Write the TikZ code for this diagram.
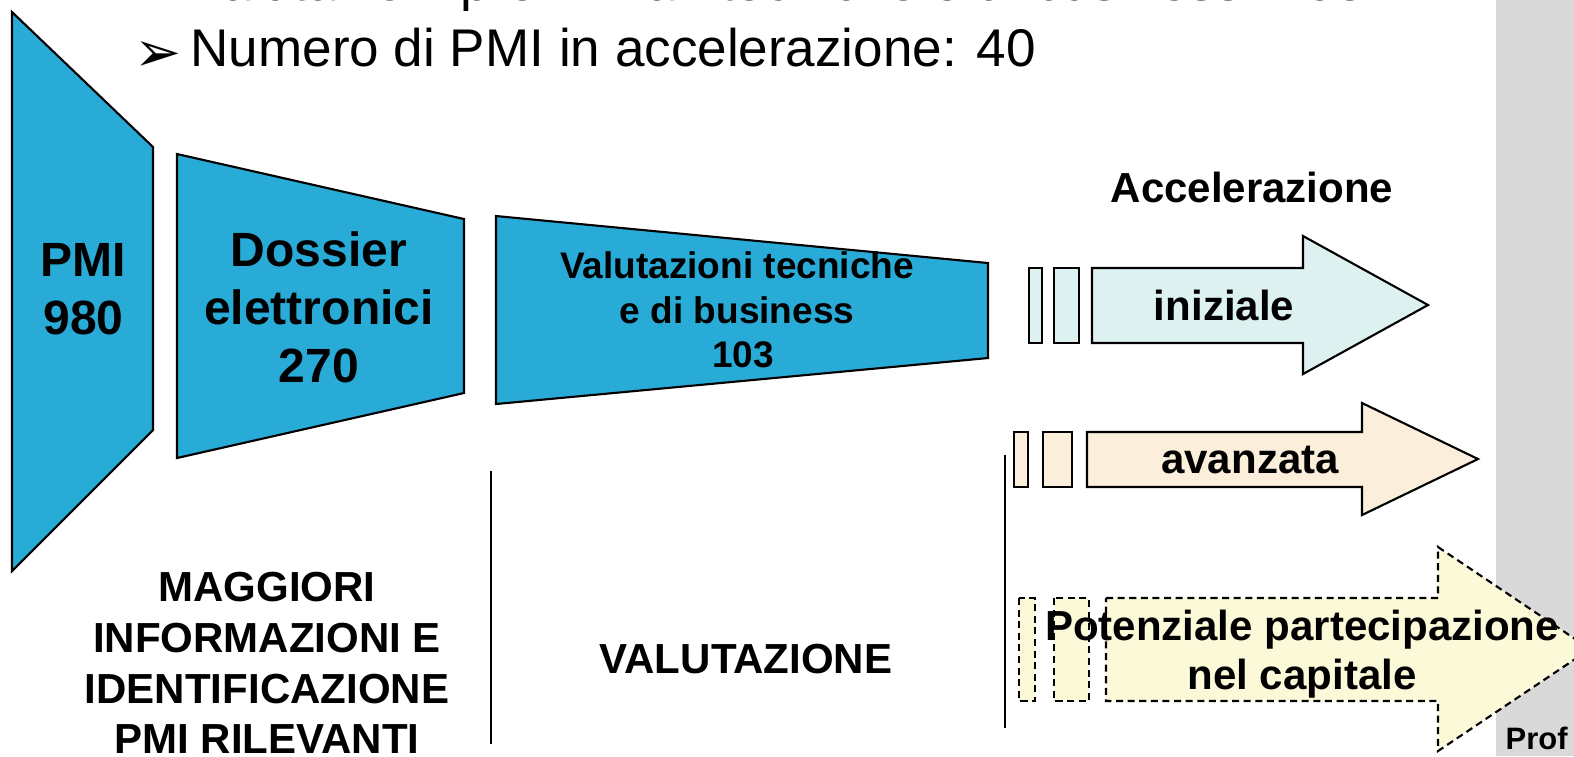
\documentclass[tikz,border=0pt]{standalone}
\usepackage{fontspec}
\setmainfont{Liberation Sans}
\newfontfamily\dejavu{DejaVu Sans}
\usepackage[HTML]{xcolor}
\usepackage{tikz}

\definecolor{imbuto}{HTML}{29ABD8}
\definecolor{iniz}{HTML}{DEF1F1}
\definecolor{avanz}{HTML}{FBEEDA}
\definecolor{potenz}{HTML}{FCF9D9}
\definecolor{grigio}{HTML}{D9D9D9}

\begin{document}
\begin{tikzpicture}[x=0.01cm,y=-0.01cm,
  lbl/.style={font=\bfseries\fontsize{11.95}{14.4}\selectfont, inner sep=0pt, align=center},
  bordo/.style={draw=black, line width=0.6pt},
  tratt/.style={draw=black, line width=0.6pt, dash pattern=on 2pt off 1.3pt}]
\clip (0,0) rectangle (1574,756);
\fill[white] (0,0) rectangle (1574,756);
\fill[grigio] (1496,0) rectangle (1574,756);

% righe in alto
\node[anchor=base west, inner sep=0pt, font=\fontsize{15.08}{18}\selectfont] (riga1) at (190,0) {Valutazioni preliminari tecniche e di business: 103};
\node[anchor=base west, inner sep=0pt, font=\fontsize{15.08}{18}\selectfont] (riga2) at (190,66) {Numero di PMI in accelerazione: 40};
\node[anchor=base west, inner sep=0pt, font=\dejavu\fontsize{16}{16}\selectfont] (punto) at (134,71) {➢};

% imbuto
\filldraw[bordo, fill=imbuto] (12,12) -- (153,147) -- (153,430) -- (12,571) -- cycle;
\filldraw[bordo, fill=imbuto] (177,154) -- (464,219) -- (464,393) -- (177,458) -- cycle;
\filldraw[bordo, fill=imbuto] (496,216) -- (988,263) -- (988,358) -- (496,404) -- cycle;
\node[lbl, font=\bfseries\fontsize{13.66}{16.5}\selectfont] (pmi) at (83.5,289.5) {PMI\\980};
\node[lbl, font=\bfseries\fontsize{13.66}{16.5}\selectfont] (dossier) at (319,307) {Dossier\\elettronici\\270};
\node[lbl, font=\bfseries\fontsize{10.53}{12.66}\selectfont] (valut) at (737,310) {Valutazioni tecniche\\e di business\\\hspace*{3.4pt}103};

% separatori
\draw[line width=0.6pt] (491,471) -- (491,744);
\draw[line width=0.6pt] (1005,455) -- (1005,728);

% frecce
\filldraw[bordo, fill=iniz] (1029,268) rectangle (1042,343);
\filldraw[bordo, fill=iniz] (1054,268) rectangle (1079,343);
\filldraw[bordo, fill=iniz] (1092,268) -- (1303,268) -- (1303,236) -- (1428,305) -- (1303,374) -- (1303,343) -- (1092,343) -- cycle;

\filldraw[bordo, fill=avanz] (1014,432) rectangle (1028,487);
\filldraw[bordo, fill=avanz] (1043,432) rectangle (1072,487);
\filldraw[bordo, fill=avanz] (1087,432) -- (1362,432) -- (1362,403) -- (1478,459) -- (1362,515) -- (1362,487) -- (1087,487) -- cycle;

\filldraw[tratt, fill=potenz] (1019,598) rectangle (1035,701);
\filldraw[tratt, fill=potenz] (1054,598) rectangle (1089,701);
\filldraw[tratt, fill=potenz] (1106,598) -- (1438,598) -- (1438,547) -- (1590,649) -- (1438,751) -- (1438,701) -- (1106,701) -- cycle;

\node[lbl, anchor=base] (accel) at (1252,202) {Accelerazione};
\node[lbl, anchor=base] (inizlbl) at (1224,320) {iniziale};
\node[lbl, anchor=base] (avanzlbl) at (1250,473) {avanzata};
\node[lbl, font=\bfseries\fontsize{11.95}{13.94}\selectfont] (potenzlbl) at (1302,654.5) {Potenziale partecipazione\\nel capitale};

% fasi
\node[lbl] (fase1) at (267,663) {MAGGIORI\\INFORMAZIONI E\\IDENTIFICAZIONE\\PMI RILEVANTI};
\node[lbl, anchor=base] (fase2) at (746,673) {VALUTAZIONE};

\node[anchor=base west, inner sep=0pt, font=\bfseries\fontsize{8.8}{10}\selectfont] (prof) at (1505,749) {Prof};
\end{tikzpicture}
\end{document}
